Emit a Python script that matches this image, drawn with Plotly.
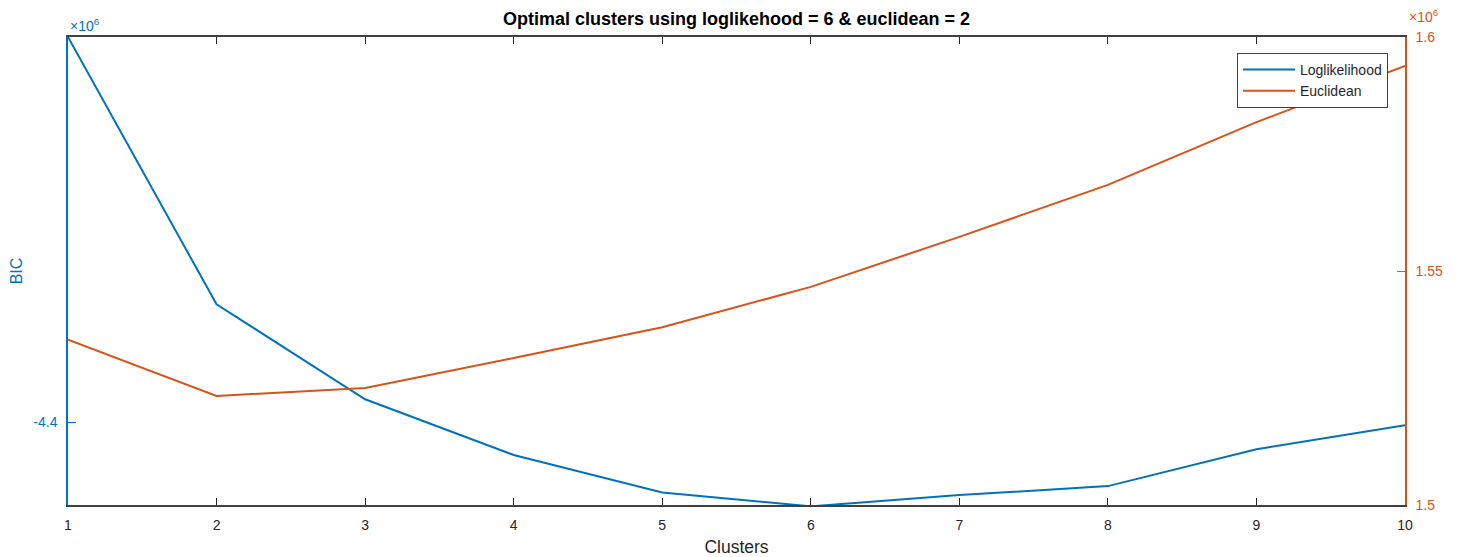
import plotly.graph_objects as go

clusters = [1, 2, 3, 4, 5, 6, 7, 8, 9, 10]
loglik_bic = [-4.3144, -4.3738, -4.3949, -4.4073, -4.4156, -4.4187, -4.4162, -4.4142, -4.4060, -4.4007]  # x1e6
eucl_bic = [1.5353, 1.5233, 1.5250, 1.5314, 1.5380, 1.5466, 1.5573, 1.5684, 1.5818, 1.5938]  # x1e6
left_ticks = [-4.4]
right_ticks = [1.5, 1.55, 1.6]
x_ticks = clusters

BLUE = "#0072BD"
ORANGE = "#D95319"
DARK = "#262626"
FONT = "Liberation Sans, Arial, Helvetica, sans-serif"

fig = go.Figure()
fig.add_trace(go.Scatter(x=clusters, y=loglik_bic, mode="lines", name="Loglikelihood",
                         line=dict(color=BLUE, width=2), yaxis="y"))
fig.add_trace(go.Scatter(x=clusters, y=eucl_bic, mode="lines", name="Euclidean",
                         line=dict(color=ORANGE, width=2), yaxis="y2"))

fig.update_layout(
    width=1463, height=557,
    margin=dict(l=68, r=58, t=37, b=52),
    paper_bgcolor="white", plot_bgcolor="white",
    font=dict(family=FONT, size=12, color=DARK),
    title=dict(text="<b>Optimal clusters using loglikehood = 6 & euclidean = 2</b>",
               x=(68 + 1405) / 2 / 1463, xanchor="center", y=1 - 19 / 557, yanchor="middle",
               font=dict(size=18, color="#000000", family=FONT)),
    xaxis=dict(range=[1, 10], tickvals=x_ticks, ticktext=[str(v) for v in x_ticks],
               showgrid=False, zeroline=False, showline=True, linecolor="#404040", linewidth=1.5,
               mirror="ticks", ticks="inside", ticklen=7, tickcolor=DARK, automargin=False,
               ticklabelstandoff=6,
               tickfont=dict(size=14, color=DARK),
               title=dict(text="Clusters", font=dict(size=17.5, color=DARK), standoff=9)),
    yaxis=dict(range=[-4.4184, -4.3144], tickvals=left_ticks, ticktext=["-4.4"],
               showgrid=False, zeroline=False, showline=True, linecolor=BLUE, linewidth=1.5,
               ticks="inside", ticklen=8, tickcolor=BLUE, tickfont=dict(size=14, color=BLUE),
               automargin=False, ticklabelstandoff=6,
               title=dict(text="BIC", font=dict(size=16, color=BLUE), standoff=7)),
    yaxis2=dict(range=[1.5, 1.6], tickvals=right_ticks, ticktext=["1.5", "1.55", "1.6"],
                overlaying="y", side="right", automargin=False, ticklabelstandoff=6,
                showgrid=False, zeroline=False, showline=True, linecolor=ORANGE, linewidth=1.5,
                ticks="inside", ticklen=8, tickcolor=ORANGE, tickfont=dict(size=14, color=ORANGE)),
    legend=dict(x=(1237 - 68) / 1337, y=(505 - 53) / 468, xanchor="left", yanchor="top",
                bgcolor="white", bordercolor="#404040", borderwidth=1, itemwidth=52,
                font=dict(size=14, color=DARK), tracegroupgap=0),
    showlegend=True,
)

fig.add_annotation(text="\u00d710<sup>6</sup>", xref="paper", yref="paper", x=0, y=1,
                   xanchor="left", yanchor="bottom", showarrow=False, yshift=1,
                   font=dict(size=14, color=BLUE, family=FONT))
fig.add_annotation(text="\u00d710<sup>6</sup>", xref="paper", yref="paper", x=1.0, y=1.0,
                   xanchor="left", yanchor="bottom", showarrow=False, xshift=2, yshift=10,
                   font=dict(size=14, color=ORANGE, family=FONT))

fig.write_html("out.html", config={"displayModeBar": False},
               post_script="document.body.style.margin='0';")
